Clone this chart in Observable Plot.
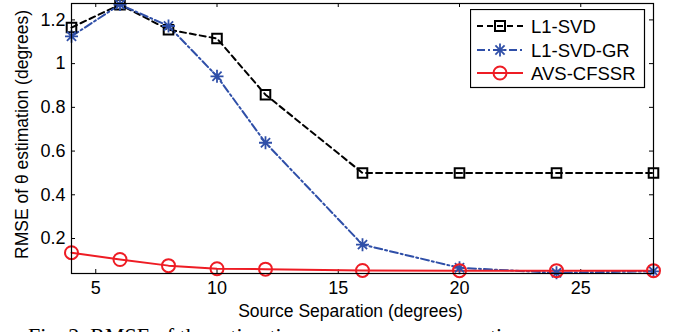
<!DOCTYPE html>
<html>
<head>
<meta charset="utf-8">
<script src="https://cdn.jsdelivr.net/npm/d3@7"></script>
<script src="https://cdn.jsdelivr.net/npm/@observablehq/plot@0.6"></script>
<style>
  body { margin: 0; background: #fff; }
  #wrap { position: relative; width: 676px; height: 332px; overflow: hidden; font-family: "Liberation Sans", Arial, sans-serif; }
  #legend { position: absolute; left: 470px; top: 9px; }
  #caption { position: absolute; left: 28px; top: 325px; font-family: "Liberation Serif", "Times New Roman", serif; font-size: 22px; line-height: 22px; white-space: nowrap; color: #000; }
</style>
</head>
<body>
<div id="wrap"></div>
<script>
const separation = [4, 6, 8, 10, 12, 16, 20, 24, 28];
const l1svd      = [1.165, 1.27, 1.155, 1.115, 0.858, 0.50, 0.50, 0.50, 0.50];
const l1svdGR    = [1.125, 1.27, 1.172, 0.942, 0.638, 0.172, 0.066, 0.043, 0.050];
const avsCFSSR   = [0.135, 0.104, 0.076, 0.062, 0.060, 0.054, 0.053, 0.053, 0.053];
const seriesNames = ["L1-SVD", "L1-SVD-GR", "AVS-CFSSR"];
const xTicks = [5, 10, 15, 20, 25];
const yTicks = [0.2, 0.4, 0.6, 0.8, 1, 1.2];
const xDomain = [4, 28];
const yDomain = [0.04, 1.275];
const xTitle = "Source Separation (degrees)";
const yTitle = "RMSE of θ estimation (degrees)";

const colors = {"L1-SVD": "#000000", "L1-SVD-GR": "#2f4fa8", "AVS-CFSSR": "#ee1c24"};
const dashes = {"L1-SVD": "6,4", "L1-SVD-GR": "8,3,2,3", "AVS-CFSSR": null};

const asterisk8 = {
  draw(ctx, size) {
    const r = Math.sqrt(size / Math.PI);
    for (let i = 0; i < 4; i++) {
      const a = i * Math.PI / 4;
      ctx.moveTo(r * Math.cos(a), r * Math.sin(a));
      ctx.lineTo(-r * Math.cos(a), -r * Math.sin(a));
    }
  }
};

const rows = (vals, name) => separation.map((x, i) => ({x, y: vals[i], s: name}));
const dataSVD = rows(l1svd, seriesNames[0]);
const dataGR = rows(l1svdGR, seriesNames[1]);
const dataAVS = rows(avsCFSSR, seriesNames[2]);

const tickLenY = (yDomain[1] - yDomain[0]) * 4 / 270;
const tickLenX = (xDomain[1] - xDomain[0]) * 4 / 582;
const font = "'Liberation Sans', Arial, sans-serif";

const chart = Plot.plot({
  width: 676,
  height: 332,
  marginLeft: 71,
  marginRight: 23,
  marginTop: 3,
  marginBottom: 59,
  style: {fontFamily: font, fontSize: "17px", background: "#fff", overflow: "visible"},
  x: {domain: xDomain},
  y: {domain: yDomain},
  marks: [
    // inward ticks on all four sides
    Plot.ruleX(xTicks, {x: d => d, y1: yDomain[0], y2: yDomain[0] + tickLenY, stroke: "#000", strokeWidth: 1}),
    Plot.ruleX(xTicks, {x: d => d, y1: yDomain[1], y2: yDomain[1] - tickLenY, stroke: "#000", strokeWidth: 1}),
    Plot.ruleY(yTicks, {y: d => d, x1: xDomain[0], x2: xDomain[0] + tickLenX, stroke: "#000", strokeWidth: 1}),
    Plot.ruleY(yTicks, {y: d => d, x1: xDomain[1], x2: xDomain[1] - tickLenX, stroke: "#000", strokeWidth: 1}),
    Plot.axisX({ticks: xTicks, tickSize: 0, tickPadding: 8, fontSize: 18, label: null}),
    Plot.axisY({ticks: yTicks, tickSize: 0, tickPadding: 6, fontSize: 18, tickFormat: d => String(d), label: null}),
    Plot.text([xTitle], {text: d => d, frameAnchor: "bottom", textAnchor: "middle", lineAnchor: "middle", dy: 38, dx: -12, fontSize: 17.5, fill: "#000"}),
    Plot.text([yTitle], {text: d => d, frameAnchor: "left", textAnchor: "middle", lineAnchor: "middle", rotate: -90, dx: -49, dy: -4, fontSize: 17.5, fill: "#000"}),
    Plot.line(dataSVD, {x: "x", y: "y", stroke: colors["L1-SVD"], strokeWidth: 2, strokeDasharray: dashes["L1-SVD"]}),
    Plot.line(dataGR, {x: "x", y: "y", stroke: colors["L1-SVD-GR"], strokeWidth: 2, strokeDasharray: dashes["L1-SVD-GR"]}),
    Plot.line(dataAVS, {x: "x", y: "y", stroke: colors["AVS-CFSSR"], strokeWidth: 2}),
    Plot.dot(dataSVD, {x: "x", y: "y", symbol: "square", r: 5.4, stroke: colors["L1-SVD"], strokeWidth: 2, fill: "none"}),
    Plot.dot(dataGR, {x: "x", y: "y", symbol: asterisk8, r: 6.5, stroke: colors["L1-SVD-GR"], strokeWidth: 1.8, fill: "none"}),
    Plot.dot(dataAVS, {x: "x", y: "y", symbol: "circle", r: 6.5, stroke: colors["AVS-CFSSR"], strokeWidth: 2, fill: "none"}),
    Plot.frame({stroke: "#000", strokeWidth: 1.2})
  ]
});
document.getElementById("wrap").appendChild(chart);

// legend
const legend = document.createElement("div");
legend.id = "legend";
const ns = "http://www.w3.org/2000/svg";
const lsvg = document.createElementNS(ns, "svg");
lsvg.setAttribute("width", 176);
lsvg.setAttribute("height", 80);
lsvg.innerHTML = `<rect x="0.5" y="0.5" width="174" height="78" fill="#fff" stroke="#000" stroke-width="1.2"/>`;
const rowY = [17, 41, 64];
seriesNames.forEach((name, i) => {
  const y = rowY[i];
  const g = document.createElementNS(ns, "g");
  const dash = dashes[name] ? `stroke-dasharray="${dashes[name]}"` : "";
  let marker = "";
  if (i === 0) marker = `<rect x="25" y="${y-5}" width="10" height="10" fill="none" stroke="#000" stroke-width="2"/>`;
  if (i === 1) {
    marker = [0, 45, 90, 135].map(a => {
      const r = 6.5, c = Math.cos(a * Math.PI / 180) * r, s = Math.sin(a * Math.PI / 180) * r;
      return `<line x1="${30 - c}" y1="${y - s}" x2="${30 + c}" y2="${y + s}" stroke="${colors[name]}" stroke-width="1.8"/>`;
    }).join("");
  }
  if (i === 2) marker = `<circle cx="30" cy="${y}" r="6.5" fill="none" stroke="${colors[name]}" stroke-width="2"/>`;
  g.innerHTML = `<line x1="7" x2="53" y1="${y}" y2="${y}" stroke="${colors[name]}" stroke-width="2" ${dash}/>${marker}
    <text x="61" y="${y + 6.5}" font-size="18.5" font-family="${font}" fill="#000">${name}</text>`;
  lsvg.appendChild(g);
});
legend.appendChild(lsvg);
document.getElementById("wrap").appendChild(legend);

const cap = document.createElement("div");
cap.id = "caption";
cap.textContent = "Fig. 2.  RMSE of the estimation versus source separation.";
document.getElementById("wrap").appendChild(cap);
</script>
</body>
</html>
